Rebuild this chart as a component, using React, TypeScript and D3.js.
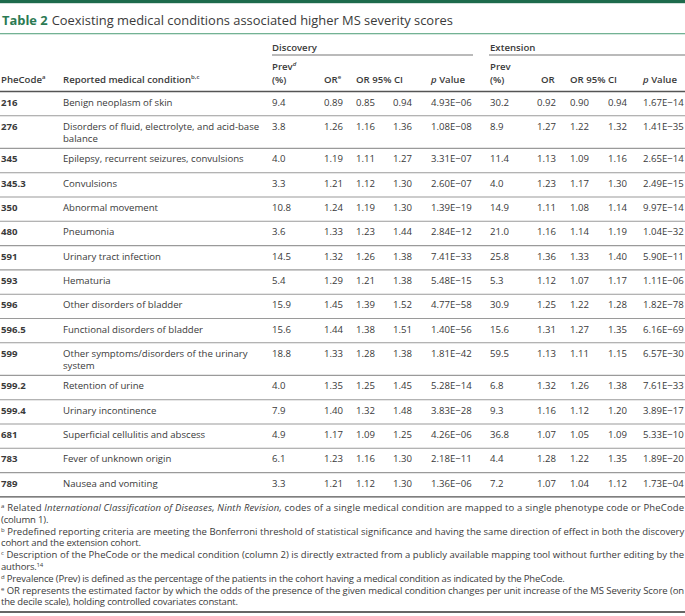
import React from 'react';
import * as d3 from 'd3';

const pheCodes = ["216","276","345","345.3","350","480","591","593","596","596.5","599","599.2","599.4","681","783","789"];
const conditions = [
  ["Benign neoplasm of skin"],
  ["Disorders of fluid, electrolyte, and acid-base", "balance"],
  ["Epilepsy, recurrent seizures, convulsions"],
  ["Convulsions"],
  ["Abnormal movement"],
  ["Pneumonia"],
  ["Urinary tract infection"],
  ["Hematuria"],
  ["Other disorders of bladder"],
  ["Functional disorders of bladder"],
  ["Other symptoms/disorders of the urinary", "system"],
  ["Retention of urine"],
  ["Urinary incontinence"],
  ["Superficial cellulitis and abscess"],
  ["Fever of unknown origin"],
  ["Nausea and vomiting"],
];
const discPrev = [9.4,3.8,4.0,3.3,10.8,3.6,14.5,5.4,15.9,15.6,18.8,4.0,7.9,4.9,6.1,3.3];
const discOR = [0.89,1.26,1.19,1.21,1.24,1.33,1.32,1.29,1.45,1.44,1.33,1.35,1.40,1.17,1.23,1.21];
const discLo = [0.85,1.16,1.11,1.12,1.19,1.23,1.26,1.21,1.39,1.38,1.28,1.25,1.32,1.09,1.16,1.12];
const discHi = [0.94,1.36,1.27,1.30,1.30,1.44,1.38,1.38,1.52,1.51,1.38,1.45,1.48,1.25,1.30,1.30];
const discP = [4.93e-6,1.08e-8,3.31e-7,2.60e-7,1.39e-19,2.84e-12,7.41e-33,5.48e-15,4.77e-58,1.40e-56,1.81e-42,5.28e-14,3.83e-28,4.26e-6,2.18e-11,1.36e-6];
const extPrev = [30.2,8.9,11.4,4.0,14.9,21.0,25.8,5.3,30.9,15.6,59.5,6.8,9.3,36.8,4.4,7.2];
const extOR = [0.92,1.27,1.13,1.23,1.11,1.16,1.36,1.12,1.25,1.31,1.13,1.32,1.16,1.07,1.28,1.07];
const extLo = [0.90,1.22,1.09,1.17,1.08,1.14,1.33,1.07,1.22,1.27,1.11,1.26,1.12,1.05,1.22,1.04];
const extHi = [0.94,1.32,1.16,1.30,1.14,1.19,1.40,1.17,1.28,1.35,1.15,1.38,1.20,1.09,1.35,1.12];
const extP = [1.67e-14,1.41e-35,2.65e-14,2.49e-15,9.97e-14,1.04e-32,5.90e-11,1.11e-6,1.82e-78,6.16e-69,6.57e-30,7.61e-33,3.89e-17,5.33e-10,1.89e-20,1.73e-4];

const titleLabel = "Table 2";
const titleText = "Coexisting medical conditions associated higher MS severity scores";
const groupLabels = ["Discovery", "Extension"];

type Seg = { t: string; i?: boolean; sup?: boolean };
const footnotes: { m: string; segs: Seg[]; j: boolean }[] = [
  { m: "a", segs: [{ t: " Related " }, { t: "International Classification of Diseases, Ninth Revision,", i: true }, { t: " codes of a single medical condition are mapped to a single phenotype code or PheCode" }], j: true },
  { m: "", segs: [{ t: "(column 1)." }], j: false },
  { m: "b", segs: [{ t: " Predefined reporting criteria are meeting the Bonferroni threshold of statistical significance and having the same direction of effect in both the discovery" }], j: true },
  { m: "", segs: [{ t: "cohort and the extension cohort." }], j: false },
  { m: "c", segs: [{ t: " Description of the PheCode or the medical condition (column 2) is directly extracted from a publicly available mapping tool without further editing by the" }], j: true },
  { m: "", segs: [{ t: "authors." }, { t: "14", sup: true }], j: false },
  { m: "d", segs: [{ t: " Prevalence (Prev) is defined as the percentage of the patients in the cohort having a medical condition as indicated by the PheCode." }], j: false },
  { m: "e", segs: [{ t: " OR represents the estimated factor by which the odds of the presence of the given medical condition changes per unit increase of the MS Severity Score (on" }], j: true },
  { m: "", segs: [{ t: "the decile scale), holding controlled covariates constant." }], j: false },
];

const W = 685;
const H = 616;
const FONT = "'Open Sans', 'Noto Sans', sans-serif";
const TXT = "#3a3a3a";
const GREEN = "#1e6b4c";

const f1 = d3.format(".1f");
const f2 = d3.format(".2f");
const fp = (v: number) => {
  const s = d3.format(".2e")(v);
  const [m, e] = s.split("e");
  const ex = +e;
  const sign = ex < 0 ? "\u2212" : "+";
  return `${m}E${sign}${String(Math.abs(ex)).padStart(2, "0")}`;
};

const colX = {
  code: 1, cond: 63,
  dPrev: 272, dOR: 324, dLo: 356, dHi: 393, dP: 431,
  ePrev: 490, eOR: 537, eLo: 570, eHi: 608, eP: 643,
};

export default function App() {
  const headerLineY = 91.5;
  const singleH = 24.3;
  const doubleH = 32.6;
  const heights = conditions.map(c => (c.length > 1 ? doubleH : singleH));
  const tops = d3.cumsum([0, ...heights]).map(v => headerLineY + v);
  const tableBottom = tops[tops.length - 1];
  const fs = 9.6;

  const rowCells = (i: number) => [
    { x: colX.dPrev, t: f1(discPrev[i]) },
    { x: colX.dOR, t: f2(discOR[i]) },
    { x: colX.dLo, t: f2(discLo[i]) },
    { x: colX.dHi, t: f2(discHi[i]) },
    { x: colX.dP, t: fp(discP[i]) },
    { x: colX.ePrev, t: f1(extPrev[i]) },
    { x: colX.eOR, t: f2(extOR[i]) },
    { x: colX.eLo, t: f2(extLo[i]) },
    { x: colX.eHi, t: f2(extHi[i]) },
    { x: colX.eP, t: fp(extP[i]) },
  ];

  const fnY0 = 511;
  const fnStep = 11.8;
  const fnFs = 9.5;

  return (
    <svg width={W} height={H} style={{ position: "absolute", left: 0, top: 0, background: "#fff" }} fontFamily={FONT}>
      <rect x={0} y={0} width={W} height={3.2} fill={GREEN} />
      <text x={2} y={25.3} fontSize={12.9} fill={TXT}>
        <tspan fontWeight={700} fill="#2b7a53">{titleLabel}</tspan>
        <tspan dx={4}>{titleText}</tspan>
      </text>
      <rect x={0} y={33} width={W} height={1.3} fill="#73b294" />

      <g fontSize={fs} fontWeight={600} fill={TXT}>
        <text x={colX.dPrev} y={50.5}>{groupLabels[0]}</text>
        <text x={colX.ePrev} y={50.5}>{groupLabels[1]}</text>
      </g>
      <line x1={colX.dPrev} x2={473} y1={55} y2={55} stroke="#777" strokeWidth={1.1} />
      <line x1={colX.ePrev - 1} x2={W} y1={55} y2={55} stroke="#777" strokeWidth={1.1} />

      <g fontSize={fs} fontWeight={600} fill={TXT}>
        <text x={colX.code} y={83}>PheCode<tspan fontSize={6} dy={-4}>a</tspan></text>
        <text x={colX.cond} y={83}>Reported medical condition<tspan fontSize={6} dy={-4}>b,c</tspan></text>
        <text x={colX.dPrev} y={70}>Prev<tspan fontSize={6} dy={-4} fontStyle="italic">d</tspan></text>
        <text x={colX.dPrev} y={83}>(%)</text>
        <text x={colX.dOR} y={83}>OR<tspan fontSize={6} dy={-4}>e</tspan></text>
        <text x={colX.dLo} y={83}>OR 95% CI</text>
        <text x={colX.dP} y={83}><tspan fontStyle="italic">p</tspan> Value</text>
        <text x={colX.ePrev} y={70}>Prev</text>
        <text x={colX.ePrev} y={83}>(%)</text>
        <text x={colX.eOR + 4} y={83}>OR</text>
        <text x={colX.eLo} y={83}>OR 95% CI</text>
        <text x={colX.eP} y={83}><tspan fontStyle="italic">p</tspan> Value</text>
      </g>
      <line x1={0} x2={W} y1={headerLineY} y2={headerLineY} stroke="#555" strokeWidth={1.4} />

      {pheCodes.map((code, i) => {
        const top = tops[i];
        const base = top + 14;
        return (
          <g key={code} fontSize={fs} fill={TXT}>
            <text x={colX.code} y={base} fontWeight={700}>{code}</text>
            {conditions[i].map((ln, k) => (
              <text key={k} x={colX.cond} y={base + k * 12.4}>{ln}</text>
            ))}
            {rowCells(i).map((c, k) => (
              <text key={k} x={c.x} y={base}>{c.t}</text>
            ))}
            {i < pheCodes.length - 1 && (
              <line x1={0} x2={W} y1={tops[i + 1]} y2={tops[i + 1]} stroke="#9a9a9a" strokeWidth={1.1} />
            )}
          </g>
        );
      })}
      <line x1={0} x2={W} y1={tableBottom} y2={tableBottom} stroke="#555" strokeWidth={1.3} />

      <g fontSize={fnFs} fill={TXT}>
        {footnotes.map((fn, i) => (
          <text key={i} x={1} y={fnY0 + i * fnStep}
            textLength={fn.j ? W - 2 : undefined}
            lengthAdjust={fn.j ? "spacing" : undefined}
            letterSpacing={-0.17}>
            {fn.m && <tspan fontSize={6} dy={-3}>{fn.m}</tspan>}
            {fn.segs.map((s, k) => (
              <tspan key={k}
                fontStyle={s.i ? "italic" : undefined}
                fontSize={s.sup ? 6 : undefined}
                dy={s.sup ? -3 : (fn.m && k === 0 ? 3 : undefined)}>
                {s.t}
              </tspan>
            ))}
          </text>
        ))}
      </g>
      <line x1={0} x2={W} y1={612} y2={612} stroke="#333" strokeWidth={1.3} />
    </svg>
  );
}
